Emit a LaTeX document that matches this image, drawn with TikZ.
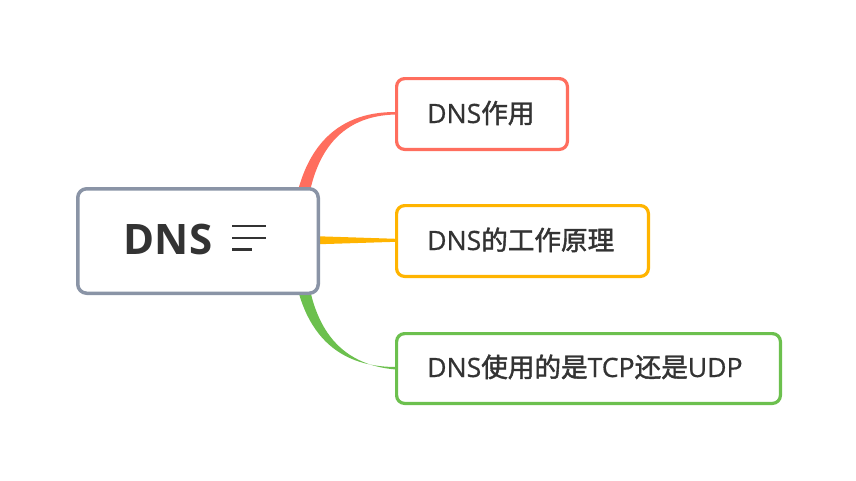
\documentclass[tikz,border=0pt]{standalone}
\usepackage{fontspec}
\setmainfont{Open Sans}
\newfontfamily\cjk[FakeBold=1.6]{Noto Sans CJK SC}
\newfontfamily\lat[FakeBold=0.6]{Open Sans}
\definecolor{txt}{RGB}{51,51,51}
\definecolor{cred}{RGB}{255,110,94}
\definecolor{corange}{RGB}{255,180,0}
\definecolor{cgreen}{RGB}{108,192,78}
\definecolor{cgray}{RGB}{138,148,166}
\begin{document}
\begin{tikzpicture}[x=1pt,y=-1pt,
  rootbox/.style={draw=cgray,line width=3.5pt,rounded corners=9pt,fill=white},
  childbox/.style={line width=3.2pt,rounded corners=8pt,fill=white},
  childtext/.style={anchor=base west,inner sep=0pt,text=txt,font=\fontsize{26.6}{30}\lat},
  roottext/.style={anchor=base,inner sep=0pt,text=txt,font=\fontsize{42}{48}\selectfont\bfseries},
  menuline/.style={draw=txt,line width=2.2pt}]
\useasboundingbox (0,0) rectangle (856,480);
% connectors (behind boxes)
\fill[cred] (291,240) .. controls (295,150) and (335,111.5) .. (396,112)
  -- (396,114.5) .. controls (341,115.5) and (306,152) .. (305,240) -- cycle;
\fill[corange] (310,236) -- (396,238.8) -- (396,241.8) -- (310,244.5) -- cycle;
\fill[cgreen] (291,241) .. controls (295,331) and (335,367) .. (396,367)
  -- (396,369.5) .. controls (341,365) and (306,329) .. (305,241) -- cycle;
% root
\draw[rootbox] (77.75,188.75) rectangle (318.25,293.25);
\node[roottext] (root) at (168,254) {DNS};
\coordinate (m1a) at (232,226); \coordinate (m1b) at (266,226);
\coordinate (m2a) at (232,238); \coordinate (m2b) at (266,238);
\coordinate (m3a) at (232,249.5); \coordinate (m3b) at (252,249.5);
\draw[menuline] (m1a) -- (m1b);
\draw[menuline] (m2a) -- (m2b);
\draw[menuline] (m3a) -- (m3b);
% children
\draw[childbox,draw=cred] (396.6,78.6) rectangle (567.4,149.4);
\node[childtext] (c1) at (427,123) {DNS{\cjk 作用}};
\draw[childbox,draw=corange] (396.6,205.6) rectangle (648.4,276.4);
\node[childtext] (c2) at (427,250) {DNS{\cjk 的工作原理}};
\draw[childbox,draw=cgreen] (396.6,333.6) rectangle (780.4,403.4);
\node[childtext] (c3) at (427,377) {DNS{\cjk 使用的是}TCP{\cjk 还是}UDP};
\end{tikzpicture}
\end{document}
